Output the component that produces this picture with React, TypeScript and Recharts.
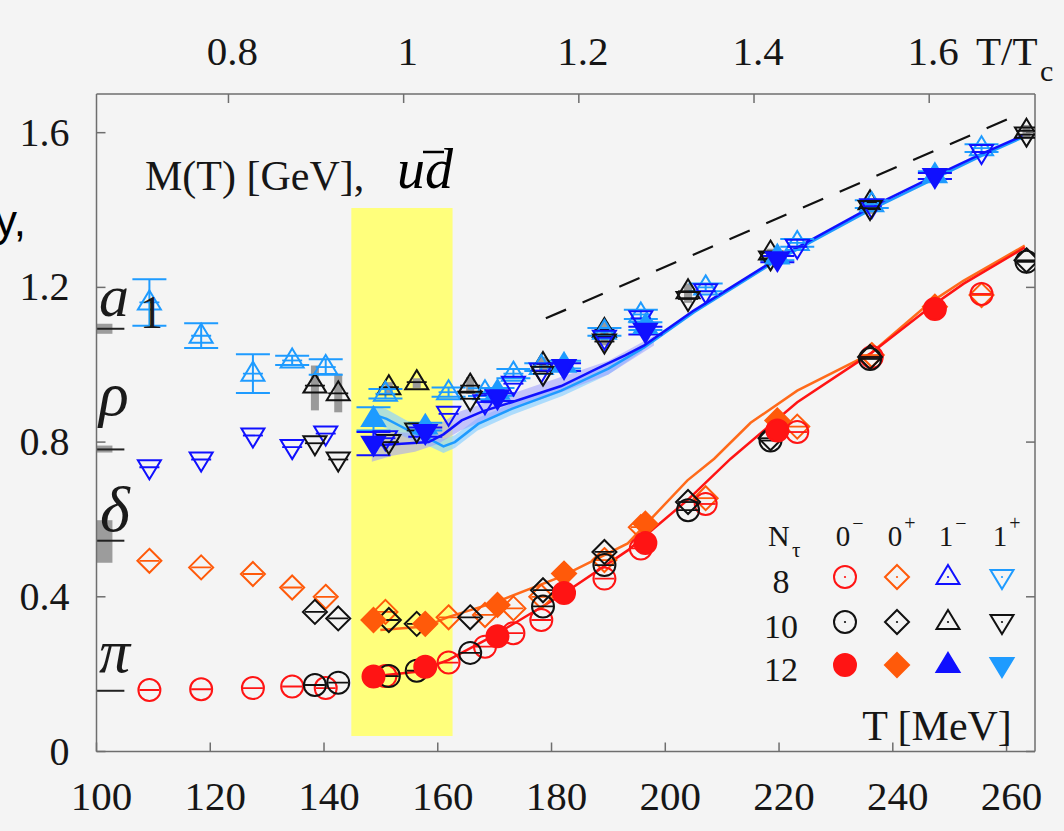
import React from "react";
import {
  ComposedChart,
  Line,
  Area,
  Scatter,
  XAxis,
  YAxis,
  ErrorBar,
  ReferenceArea,
  ReferenceLine,
} from "recharts";

const TC = 154; // MeV, used for the T/Tc axis on top
const SERIF = '"Liberation Serif", "Times New Roman", serif';
const AXIS = "#6e6e6e";
const INK = "#161616";

const RED = "#ff1414";
const ORANGE = "#ff5a0a";
const BLUE = "#1010ff";
const LBLUE = "#1e9bff";
const BLACK = "#111111";

// lattice temperatures per N_tau
const T8 = [109.3, 118.4, 127.5, 134.4, 140.3, 150.8, 161.9, 168.3, 173.3, 178.2, 189.3, 195.7, 207.1, 223.2, 236.3, 255.6];
const T10 = [138.4, 142.5, 151.4, 156.3, 165.7, 178.5, 189.3, 204.0, 218.5, 236.0, 263.5];
const T12 = [148.7, 157.8, 170.5, 182.2, 196.5, 219.7, 247.4];

// 0- (pi)
const pi8 = [0.159, 0.161, 0.164, 0.168, 0.164, 0.195, 0.23, 0.271, 0.306, 0.34, 0.447, 0.525, 0.64, 0.826, 1.02, 1.183];
const pi10 = [0.172, 0.178, 0.195, 0.209, 0.255, 0.375, 0.482, 0.624, 0.804, 1.015, 1.266];
const pi12 = [0.194, 0.219, 0.298, 0.41, 0.539, 0.83, 1.144];

// 0+ (delta)
const de8 = [0.493, 0.476, 0.459, 0.424, 0.4, 0.361, 0.347, 0.353, 0.37, 0.4, 0.495, 0.58, 0.655, 0.84, 1.025, 1.18];
const de10 = [0.361, 0.344, 0.34, 0.33, 0.347, 0.417, 0.516, 0.645, 0.81, 1.02, 1.27];
const de12 = [0.34, 0.33, 0.379, 0.46, 0.589, 0.856, 1.15];

// rho branch (down triangles)
const rho8 = [0.735, 0.755, 0.817, 0.787, 0.822, 0.81, 0.873, 0.903, 0.951, 0.985, 1.07, 1.12, 1.19, 1.305, 1.41, 1.55];
const rho10 = [0.797, 0.755, 0.8, 0.83, 0.912, 0.977, 1.06, 1.17, 1.275, 1.405, 1.595];
const rho12 = [0.796, 0.826, 0.916, 0.994, 1.088, 1.273, 1.488];
const rho12Err = [0.03, 0.012, 0.01, 0.01, 0.01, 0.008, 0.008];

// a1 branch (up triangles)
const a18 = [1.161, 1.075, 0.977, 1.011, 0.994, 0.925, 0.929, 0.929, 0.977, 0.994, 1.085, 1.13, 1.2, 1.315, 1.415, 1.56];
const a18Err = [0.06, 0.032, 0.05, 0.012, 0.02, 0.012, 0.012, 0.01, 0.012, 0.01, 0.01, 0.012, 0.01, 0.01, 0.01, 0.01];
const a110 = [0.946, 0.926, 0.942, 0.955, 0.946, 1.002, 1.09, 1.19, 1.29, 1.42, 1.605];
const a110SysLo = [0.882, 0.877, 0.925, 0.94, 0.925, 0.98, 1.05, 1.16, 1.265, 1.39, 1.585];
const a110SysHi = [0.998, 0.977, 0.955, 0.965, 0.968, 1.02, 1.11, 1.21, 1.3, 1.43, 1.62];
const a112 = [0.86, 0.84, 0.93, 1.0, 1.1, 1.28, 1.49];
const a112Err = [0.03, 0.01, 0.01, 0.01, 0.01, 0.01, 0.01];

// model curves
const vecT = [148.4, 153, 158.4, 161, 164.2, 168, 173, 181.7, 188, 193, 196.3, 205, 219.7, 236, 247.4, 255.6, 263.5];
const vecM = [0.791, 0.795, 0.8, 0.82, 0.856, 0.88, 0.903, 0.945, 0.99, 1.025, 1.05, 1.14, 1.275, 1.406, 1.488, 1.545, 1.596];
const axT = [148.4, 151, 154.9, 158.4, 161, 163, 167.1, 173, 181.7, 190, 196.3, 205, 219.7, 236, 255.6, 263.5];
const axM = [0.873, 0.86, 0.83, 0.809, 0.789, 0.8, 0.847, 0.886, 0.933, 0.99, 1.045, 1.135, 1.27, 1.4, 1.54, 1.592];
const vecBandT = [148.4, 152, 156, 160, 164, 168, 173, 181, 190, 198];
const vecBandLo = [0.749, 0.765, 0.775, 0.795, 0.83, 0.855, 0.885, 0.925, 0.975, 1.05];
const vecBandHi = [0.83, 0.825, 0.825, 0.845, 0.88, 0.9, 0.925, 0.965, 1.01, 1.075];
const axBandT = [148.4, 151, 155, 158.4, 161, 163, 167, 173, 182, 190, 196];
const axBandLo = [0.85, 0.835, 0.808, 0.79, 0.772, 0.785, 0.83, 0.87, 0.92, 0.975, 1.035];
const axBandHi = [0.895, 0.885, 0.852, 0.83, 0.808, 0.818, 0.862, 0.9, 0.945, 1.0, 1.052];
const psT = [148.4, 156.3, 161.9, 170, 181.7, 193.4, 203.9, 211.5, 223.2, 236, 246.5, 252.4, 263.2];
const psM = [0.194, 0.206, 0.237, 0.301, 0.404, 0.52, 0.65, 0.757, 0.903, 1.028, 1.148, 1.209, 1.303];
const scT = [149.9, 157.8, 161.9, 170, 181.7, 193.4, 203.9, 208.6, 215, 223.2, 236, 246.5, 252.4, 263.2];
const scM = [0.314, 0.323, 0.348, 0.385, 0.452, 0.538, 0.701, 0.757, 0.85, 0.933, 1.028, 1.16, 1.217, 1.308];
const freeT = [179, 261.5];
const freeM = [1.12, 1.643];

// vacuum reference masses drawn at the left edge
const vacNames = ["a1", "rho", "delta", "pi"];
const vacM = [1.093, 0.781, 0.545, 0.157];
const vacBoxLo = [1.08, 0.773, 0.488];
const vacBoxHi = [1.106, 0.791, 0.598];

const xTicks = [100, 120, 140, 160, 180, 200, 220, 240, 260];
const yTicks = [0, 0.4, 0.8, 1.2, 1.6];
const topRatios = [0.8, 1, 1.2, 1.4, 1.6];

const pts = (ts: number[], ms: number[], errs?: number[]) =>
  ts.map((T, i) => ({ T, M: ms[i], err: errs ? errs[i] : 0 }));
const band = (ts: number[], lo: number[], hi: number[]) => ts.map((T, i) => ({ T, band: [lo[i], hi[i]] }));

type Kind = "circle" | "diamond" | "up" | "down";

function Glyph({ kind, cx, cy, color, filled, bar, dot }: any) {
  const fill = filled ? color : "none";
  const sw = 2;
  let body: React.ReactNode = null;
  if (kind === "circle") body = <circle cx={cx} cy={cy} r={11} fill={fill} stroke={color} strokeWidth={sw} />;
  if (kind === "diamond")
    body = (
      <polygon
        points={`${cx},${cy - 12} ${cx + 12},${cy} ${cx},${cy + 12} ${cx - 12},${cy}`}
        fill={fill}
        stroke={color}
        strokeWidth={sw}
      />
    );
  if (kind === "up")
    body = (
      <polygon points={`${cx},${cy - 12} ${cx + 11.5},${cy + 7} ${cx - 11.5},${cy + 7}`} fill={fill} stroke={color} strokeWidth={sw} />
    );
  if (kind === "down")
    body = (
      <polygon points={`${cx},${cy + 12} ${cx + 11.5},${cy - 7} ${cx - 11.5},${cy - 7}`} fill={fill} stroke={color} strokeWidth={sw} />
    );
  return (
    <g>
      {body}
      {bar && !filled && <line x1={cx - 10} x2={cx + 10} y1={cy} y2={cy} stroke={color} strokeWidth={1.8} />}
      {dot && <circle cx={cx} cy={cy} r={1.1} fill={color} />}
    </g>
  );
}

const shape = (kind: Kind, color: string, filled: boolean) => (p: any) =>
  p.cx == null ? <g /> : <Glyph kind={kind} cx={p.cx} cy={p.cy} color={color} filled={filled} bar />;

const series = [
  { key: "a1-8", data: pts(T8, a18, a18Err), kind: "up", color: LBLUE, filled: false, err: true },
  { key: "rho-8", data: pts(T8, rho8), kind: "down", color: BLUE, filled: false },
  { key: "de-8", data: pts(T8, de8), kind: "diamond", color: ORANGE, filled: false },
  { key: "pi-8", data: pts(T8, pi8), kind: "circle", color: RED, filled: false },
  { key: "rho-10", data: pts(T10, rho10), kind: "down", color: BLACK, filled: false },
  { key: "de-10", data: pts(T10, de10), kind: "diamond", color: BLACK, filled: false },
  { key: "pi-10", data: pts(T10, pi10), kind: "circle", color: BLACK, filled: false },
  { key: "a1-12", data: pts(T12, a112, a112Err), kind: "up", color: LBLUE, filled: true, err: true },
  { key: "rho-12", data: pts(T12, rho12, rho12Err), kind: "down", color: BLUE, filled: true, err: true },
  { key: "de-12", data: pts(T12, de12), kind: "diamond", color: ORANGE, filled: true },
  { key: "pi-12", data: pts(T12, pi12), kind: "circle", color: RED, filled: true },
];

const a110Data = T10.map((T, i) => ({ T, M: a110[i], sys: [a110[i] - a110SysLo[i], a110SysHi[i] - a110[i]] }));

const BottomTick = ({ x, y, payload }: any) => (
  <g>
    <line x1={x} x2={x} y1={y} y2={y - 9} stroke={AXIS} strokeWidth={1.5} />
    <text x={x + 5} y={y + 58} textAnchor="middle" fontFamily={SERIF} fontSize={41} fill={INK}>
      {payload.value}
    </text>
  </g>
);

const TopTick = ({ x, y, payload }: any) => (
  <g>
    <line x1={x} x2={x} y1={y} y2={y + 9} stroke={AXIS} strokeWidth={1.5} />
    <text x={x + 4} y={y - 29} textAnchor="middle" fontFamily={SERIF} fontSize={41} fill={INK}>
      {String(Math.round((payload.value / TC) * 10) / 10)}
    </text>
  </g>
);

const LeftTick = ({ x, y, payload }: any) => (
  <g>
    <line x1={x} x2={x + 9} y1={y} y2={y} stroke={AXIS} strokeWidth={1.5} />
    <text x={x - 27} y={y + 13} textAnchor="end" fontFamily={SERIF} fontSize={40} fill={INK}>
      {payload.value}
    </text>
  </g>
);

const RightTick = ({ x, y }: any) => <line x1={x} x2={x - 9} y1={y} y2={y} stroke={AXIS} strokeWidth={1.5} />;

const legendCols = [
  { label: "0", sup: "\u2212", kind: "circle", colors: [RED, BLACK, RED] },
  { label: "0", sup: "+", kind: "diamond", colors: [ORANGE, BLACK, ORANGE] },
  { label: "1", sup: "\u2212", kind: "up", colors: [BLUE, BLACK, BLUE] },
  { label: "1", sup: "+", kind: "down", colors: [LBLUE, BLACK, LBLUE] },
];
const legendRows = ["8", "10", "12"];

function Overlay() {
  const colX = [845, 897, 948, 1002];
  const rowY = [577, 622, 665];
  return (
    <svg width={1064} height={831} style={{ position: "absolute", left: 0, top: 0, pointerEvents: "none" }}>
      <text x={26} y={236} textAnchor="end" fontFamily='"Liberation Sans", Arial, sans-serif' fontSize={44} fill="#000">
        y,
      </text>
      {/* top axis title */}
      <text x={976} y={65} fontFamily={SERIF} fontSize={41} fill={INK}>T/T</text>
      <text x={1040} y={81} fontFamily={SERIF} fontSize={30} fill={INK}>c</text>
      {/* panel title */}
      <text x={145} y={190} fontFamily={SERIF} fontSize={42} fill={INK}>M(T) [GeV],</text>
      <text x={397} y={188} fontFamily={SERIF} fontStyle="italic" fontSize={56} fill="#000">ud</text>
      <line x1={423} x2={444} y1={152} y2={152} stroke="#000" strokeWidth={2.5} />
      {/* meson labels */}
      <text x={99} y={316} fontFamily={SERIF} fontStyle="italic" fontSize={60} fill="#1a1a1a">a</text>
      <text x={140} y={328} fontFamily={SERIF} fontSize={46} fill="#1a1a1a">1</text>
      <text x={99} y={415} fontFamily={SERIF} fontStyle="italic" fontSize={62} fill="#1a1a1a">ρ</text>
      <text x={100} y={531} fontFamily={SERIF} fontStyle="italic" fontSize={64} fill="#1a1a1a">δ</text>
      <text x={99} y={672} fontFamily={SERIF} fontStyle="italic" fontSize={62} fill="#1a1a1a">π</text>
      {/* legend */}
      <text x={768} y={546} fontFamily={SERIF} fontSize={30} fill={INK}>N</text>
      <text x={792} y={557} fontFamily={SERIF} fontSize={21} fill={INK}>τ</text>
      {legendCols.map((c, i) => (
        <g key={i}>
          <text x={colX[i] - 2} y={546} textAnchor="middle" fontFamily={SERIF} fontSize={29} fill={INK}>{c.label}</text>
          <text x={colX[i] + 13} y={530} textAnchor="middle" fontFamily={SERIF} fontSize={20} fill={INK}>{c.sup}</text>
          {rowY.map((y, r) => (
            <Glyph key={r} kind={c.kind} cx={colX[i]} cy={y} color={c.colors[r]} filled={r === 2} dot={r < 2} />
          ))}
        </g>
      ))}
      {legendRows.map((s, r) => (
        <text key={s} x={781} y={rowY[r] + 16} textAnchor="middle" fontFamily={SERIF} fontSize={34} fill={INK}>{s}</text>
      ))}
      <text x={937} y={740} textAnchor="middle" fontFamily={SERIF} fontSize={42} fill={INK}>T [MeV]</text>
    </svg>
  );
}

export default function App() {
  return (
    <div style={{ position: "absolute", left: 0, top: 0, width: 1064, height: 831, background: "#f4f4f4" }}>
      <ComposedChart width={1064} height={831} margin={{ top: 0, right: 0, bottom: 0, left: 0 }}>
        <XAxis
          xAxisId="bot"
          dataKey="T"
          type="number"
          domain={[100, 265]}
          allowDataOverflow
          ticks={xTicks}
          height={79.5}
          tickSize={0}
          tickMargin={0}
          tick={<BottomTick />}
          axisLine={{ stroke: AXIS, strokeWidth: 1.5 }}
        />
        <XAxis
          xAxisId="top"
          orientation="top"
          dataKey="T"
          type="number"
          domain={[100, 265]}
          allowDataOverflow
          ticks={topRatios.map((r) => r * TC)}
          height={94}
          tickSize={0}
          tickMargin={0}
          tick={<TopTick />}
          axisLine={{ stroke: AXIS, strokeWidth: 1.5 }}
        />
        <YAxis
          yAxisId="l"
          type="number"
          domain={[0, 1.7]}
          allowDataOverflow
          ticks={yTicks}
          width={96.5}
          tickSize={0}
          tickMargin={0}
          tick={<LeftTick />}
          axisLine={{ stroke: AXIS, strokeWidth: 1.5 }}
        />
        <YAxis
          yAxisId="r"
          orientation="right"
          type="number"
          domain={[0, 1.7]}
          allowDataOverflow
          ticks={yTicks}
          width={29}
          tickSize={0}
          tickMargin={0}
          tick={<RightTick />}
          axisLine={{ stroke: AXIS, strokeWidth: 1.5 }}
        />

        <ReferenceArea xAxisId="bot" yAxisId="l" x1={144.8} x2={162.6} y1={0.04} y2={1.405} fill="#ffff7c" fillOpacity={1} stroke="none" />
        {vacBoxLo.map((lo, i) => (
          <ReferenceArea
            key={vacNames[i]}
            xAxisId="bot"
            yAxisId="l"
            x1={100}
            x2={102.8}
            y1={lo}
            y2={vacBoxHi[i]}
            fill="#8c8c8c"
            fillOpacity={0.85}
            stroke="none"
          />
        ))}
        {vacM.map((m, i) => (
          <ReferenceLine
            key={vacNames[i]}
            xAxisId="bot"
            yAxisId="l"
            segment={[{ x: 100, y: m }, { x: 104.9, y: m }]}
            stroke="#222"
            strokeWidth={2}
          />
        ))}

        <Area xAxisId="bot" yAxisId="l" data={band(axBandT, axBandLo, axBandHi)} dataKey="band" type="linear" stroke="none" fill="#8fd2ff" fillOpacity={0.7} isAnimationActive={false} />
        <Area xAxisId="bot" yAxisId="l" data={band(vecBandT, vecBandLo, vecBandHi)} dataKey="band" type="linear" stroke="none" fill="#9d9dff" fillOpacity={0.55} isAnimationActive={false} />

        <Line xAxisId="bot" yAxisId="l" data={pts(axT, axM)} dataKey="M" type="linear" stroke={LBLUE} strokeWidth={2.5} dot={false} isAnimationActive={false} />
        <Line xAxisId="bot" yAxisId="l" data={pts(vecT, vecM)} dataKey="M" type="linear" stroke={BLUE} strokeWidth={2.5} dot={false} isAnimationActive={false} />
        <Line xAxisId="bot" yAxisId="l" data={pts(scT, scM)} dataKey="M" type="linear" stroke="#ff6a1a" strokeWidth={2.5} dot={false} isAnimationActive={false} />
        <Line xAxisId="bot" yAxisId="l" data={pts(psT, psM)} dataKey="M" type="linear" stroke={RED} strokeWidth={2.5} dot={false} isAnimationActive={false} />
        <Line xAxisId="top" yAxisId="r" data={pts(freeT, freeM)} dataKey="M" type="linear" stroke="#111" strokeWidth={2.2} strokeDasharray="22 18" dot={false} isAnimationActive={false} />

        <Scatter xAxisId="bot" yAxisId="l" data={a110Data} dataKey="M" shape={shape("up", BLACK, false)} isAnimationActive={false}>
          <ErrorBar dataKey="sys" direction="y" width={0} stroke="#9a9a9a" strokeWidth={8} isAnimationActive={false} />
        </Scatter>
        {series.map((s) => (
          <Scatter
            key={s.key}
            xAxisId="bot"
            yAxisId="l"
            data={s.data}
            dataKey="M"
            shape={shape(s.kind as Kind, s.color, s.filled)}
            isAnimationActive={false}
          >
            {s.err && <ErrorBar dataKey="err" direction="y" width={17} stroke={s.color} strokeWidth={2} isAnimationActive={false} />}
          </Scatter>
        ))}
      </ComposedChart>
      <Overlay />
    </div>
  );
}
